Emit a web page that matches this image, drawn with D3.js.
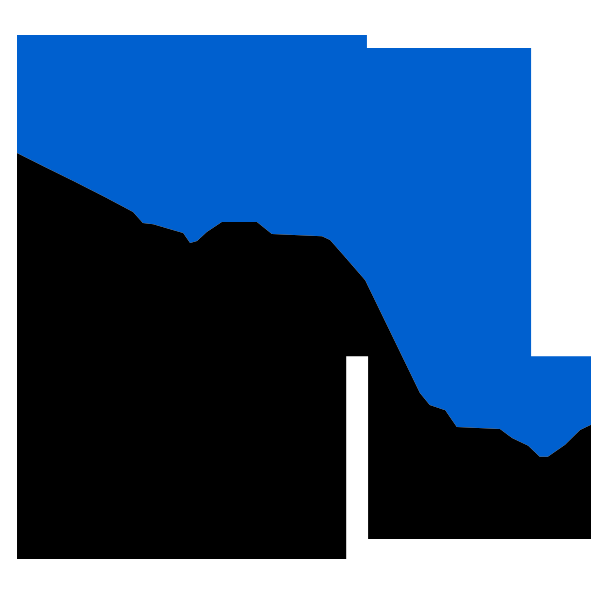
<!DOCTYPE html>
<html>
<head>
<meta charset="utf-8">
<script src="https://cdn.jsdelivr.net/npm/d3@7"></script>
<style>
    html, body { margin: 0; padding: 0; background: #fff; }
</style>
</head>
<body>
<div id="box-div"></div>
<script>
const svgname = 'area-svg'

// line values (x, y in data units 0..100)
const xValues = [0.35, 5.2, 10.4, 15.6, 20.5, 22.2, 24.0, 27.4, 29.2, 30.4, 31.6, 33.3, 35.9, 42.0,
    44.6, 53.3, 54.7, 58.2, 60.8, 70.3, 72.0, 74.7, 76.7, 84.2, 86.3, 89.1, 91.1, 92.5, 95.5, 98.1, 100]
const yValues = [77.5, 74.8, 72.0, 69.1, 66.2, 64.1, 63.9, 62.8, 62.2, 60.3, 60.7, 62.4, 64.3, 64.3,
    62.0, 61.6, 60.9, 56.5, 53.2, 31.7, 29.4, 28.4, 25.2, 24.8, 23.1, 21.6, 19.5, 19.5, 21.8, 24.6, 25.6]

// panel extents (data units)
const panelX0 = [0.35, 61.1, 0, 61.3]
const panelX1 = [61.1, 89.6, 57.5, 100]
const panelY0 = [38.7, 38.7, 0, 3.8]
const panelY1 = [100, 97.5, 38.7, 38.7]

const colorAbove = '#0060cf'
const colorBelow = '#000000'

let dms = {
    width: 600,
    height: 600,
    margin: { top: 35, right: 9, bottom: 41, left: 15 }
}
dms.chartWidth = dms.width - dms.margin.left - dms.margin.right
dms.chartHeight = dms.height - dms.margin.top - dms.margin.bottom

const data = xValues.map((x, i) => ({ x: x, y: yValues[i] }))
const panels = panelX0.map((x0, i) => ({ x0: x0, x1: panelX1[i], y0: panelY0[i], y1: panelY1[i] }))

const box = d3.select('#box-div').append('svg')
    .attr('id', svgname)
    .attr('width', dms.width)
    .attr('height', dms.height)

const content = box.append('g')
    .attr('id', 'content')
    .attr('transform', `translate(${dms.margin.left}, ${dms.margin.top})`)

// 比例尺
const xScale = d3.scaleLinear()
    .domain([0, 100])
    .range([0, dms.chartWidth])
const yScale = d3.scaleLinear()
    .domain([0, 100])
    .range([dms.chartHeight, 0])

// 裁剪区域
content.append('clipPath')
    .attr('id', 'panel-clip')
    .selectAll('rect')
    .data(panels)
    .enter()
    .append('rect')
    .attr('x', d => xScale(d.x0))
    .attr('y', d => yScale(d.y1))
    .attr('width', d => xScale(d.x1) - xScale(d.x0))
    .attr('height', d => yScale(d.y0) - yScale(d.y1))

const plot = content.append('g')
    .attr('clip-path', 'url(#panel-clip)')

// 线上方区域
const areaAbove = d3.area()
    .x(d => xScale(d.x))
    .y0(yScale(100))
    .y1(d => yScale(d.y))
const areaBelow = d3.area()
    .x(d => xScale(d.x))
    .y0(yScale(0))
    .y1(d => yScale(d.y))

plot.append('path')
    .datum(data)
    .attr('class', 'area-above')
    .attr('d', areaAbove)
    .attr('fill', colorAbove)

plot.append('path')
    .datum(data)
    .attr('class', 'area-below')
    .attr('d', areaBelow)
    .attr('fill', colorBelow)
</script>
</body>
</html>
